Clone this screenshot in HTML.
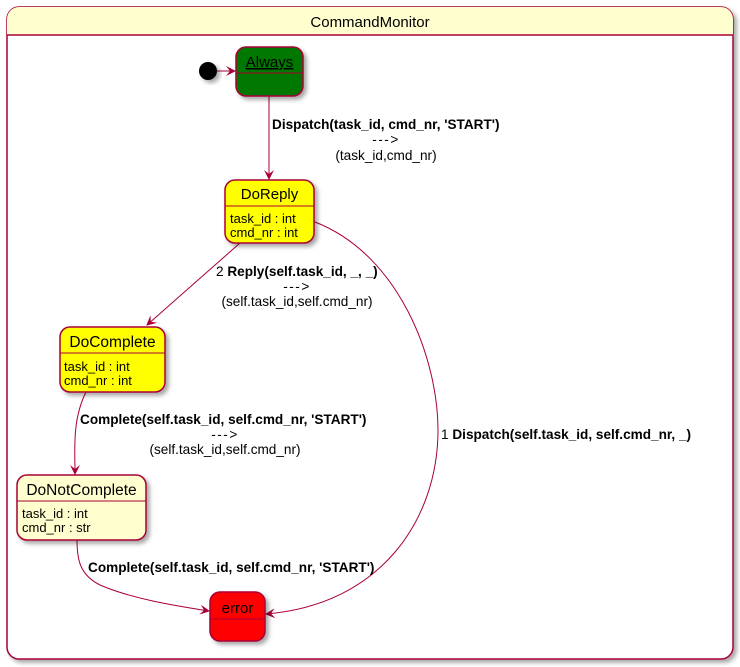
<!DOCTYPE html>
<html><head><meta charset="utf-8"><style>
body{margin:0;background:#fff;}
svg{display:block;font-family:"Liberation Sans","DejaVu Sans",sans-serif;}
</style></head><body>
<svg width="740" height="667" viewBox="0 0 740 667" xmlns="http://www.w3.org/2000/svg">
<defs>
<filter id="sh" x="-20%" y="-20%" width="150%" height="150%"><feDropShadow dx="3" dy="3" stdDeviation="2" flood-color="#000" flood-opacity="0.35"/></filter>
<marker id="ar" viewBox="0 0 10 10" refX="9" refY="5" markerWidth="10" markerHeight="10" orient="auto" markerUnits="userSpaceOnUse"><path d="M0,0 L10,5 L0,10 L4,5 Z" fill="#A80036"/></marker>
</defs>
<rect x="7" y="7" width="726" height="652" rx="12" fill="#fff" stroke="#A80036" stroke-width="1.5" filter="url(#sh)"/>
<path d="M7,35 V19 a12,12 0 0 1 12,-12 H721 a12,12 0 0 1 12,12 V35 Z" fill="#FEFECE"/>
<line x1="7" y1="35" x2="733" y2="35" stroke="#A80036" stroke-width="1.5"/>
<text x="370" y="27" font-size="15" text-anchor="middle">CommandMonitor</text>

<g fill="none" stroke="#A80036" stroke-width="1">
<line x1="217" y1="71" x2="235" y2="71" marker-end="url(#ar)"/>
<line x1="269" y1="96" x2="269" y2="179" marker-end="url(#ar)"/>
<line x1="240" y1="243" x2="147" y2="325" marker-end="url(#ar)"/>
<path d="M86,392 C72,420 75,450 75,474" marker-end="url(#ar)"/>
<path d="M77,540 C77,560 80,575 100,585 C130,598 170,605 209,611" marker-end="url(#ar)"/>
<path d="M315,222 C400,255 438,360 438,430 C438,520 380,605 266,614" marker-end="url(#ar)"/>
</g>

<circle cx="208" cy="71" r="9" fill="#000" filter="url(#sh)"/>

<rect x="236" y="47" width="67" height="49" rx="10" fill="#007700" stroke="#A80036" stroke-width="1.5" filter="url(#sh)"/>
<line x1="236" y1="73" x2="303" y2="73" stroke="#A80036"/>
<text x="269.5" y="67" font-size="15" text-anchor="middle" text-decoration="underline">Always</text>

<rect x="225" y="180" width="89" height="63" rx="10" fill="#FFFF00" stroke="#A80036" stroke-width="1.5" filter="url(#sh)"/>
<line x1="225" y1="206" x2="314" y2="206" stroke="#A80036"/>
<text x="269.5" y="199" font-size="15" text-anchor="middle">DoReply</text>
<text x="230" y="223" font-size="13">task_id : int</text>
<text x="230" y="237" font-size="13">cmd_nr : int</text>

<rect x="60" y="327" width="105" height="65" rx="10" fill="#FFFF00" stroke="#A80036" stroke-width="1.5" filter="url(#sh)"/>
<line x1="60" y1="353" x2="165" y2="353" stroke="#A80036"/>
<text x="112.5" y="347" font-size="15.5" text-anchor="middle">DoComplete</text>
<text x="64" y="371" font-size="13">task_id : int</text>
<text x="64" y="385" font-size="13">cmd_nr : int</text>

<rect x="17" y="475" width="129" height="65" rx="10" fill="#FEFECE" stroke="#A80036" stroke-width="1.5" filter="url(#sh)"/>
<line x1="17" y1="501" x2="146" y2="501" stroke="#A80036"/>
<text x="81.5" y="495" font-size="15.5" text-anchor="middle">DoNotComplete</text>
<text x="22" y="518" font-size="13">task_id : int</text>
<text x="22" y="532" font-size="13">cmd_nr : str</text>

<rect x="210" y="592" width="55" height="49" rx="10" fill="#FF0000" stroke="#A80036" stroke-width="1.5" filter="url(#sh)"/>
<line x1="210" y1="619" x2="265" y2="619" stroke="#A80036"/>
<text x="237.5" y="613" font-size="15" text-anchor="middle">error</text>

<g font-size="13.6">
<text x="272" y="129" font-weight="bold">Dispatch(task_id, cmd_nr, 'START')</text>
<text x="386" y="144" text-anchor="middle" letter-spacing="1.5">---&gt;</text>
<text x="386" y="160" text-anchor="middle">(task_id,cmd_nr)</text>

<text x="216" y="276"><tspan>2 </tspan><tspan font-weight="bold">Reply(self.task_id, _, _)</tspan></text>
<text x="297" y="291" text-anchor="middle" letter-spacing="1.5">---&gt;</text>
<text x="297" y="306" text-anchor="middle">(self.task_id,self.cmd_nr)</text>

<text x="80" y="424" font-weight="bold">Complete(self.task_id, self.cmd_nr, 'START')</text>
<text x="225" y="439" text-anchor="middle" letter-spacing="1.5">---&gt;</text>
<text x="225" y="454" text-anchor="middle">(self.task_id,self.cmd_nr)</text>

<text x="441" y="439"><tspan>1 </tspan><tspan font-weight="bold">Dispatch(self.task_id, self.cmd_nr, _)</tspan></text>

<text x="88" y="572" font-weight="bold">Complete(self.task_id, self.cmd_nr, 'START')</text>
</g>
</svg>
</body></html>
